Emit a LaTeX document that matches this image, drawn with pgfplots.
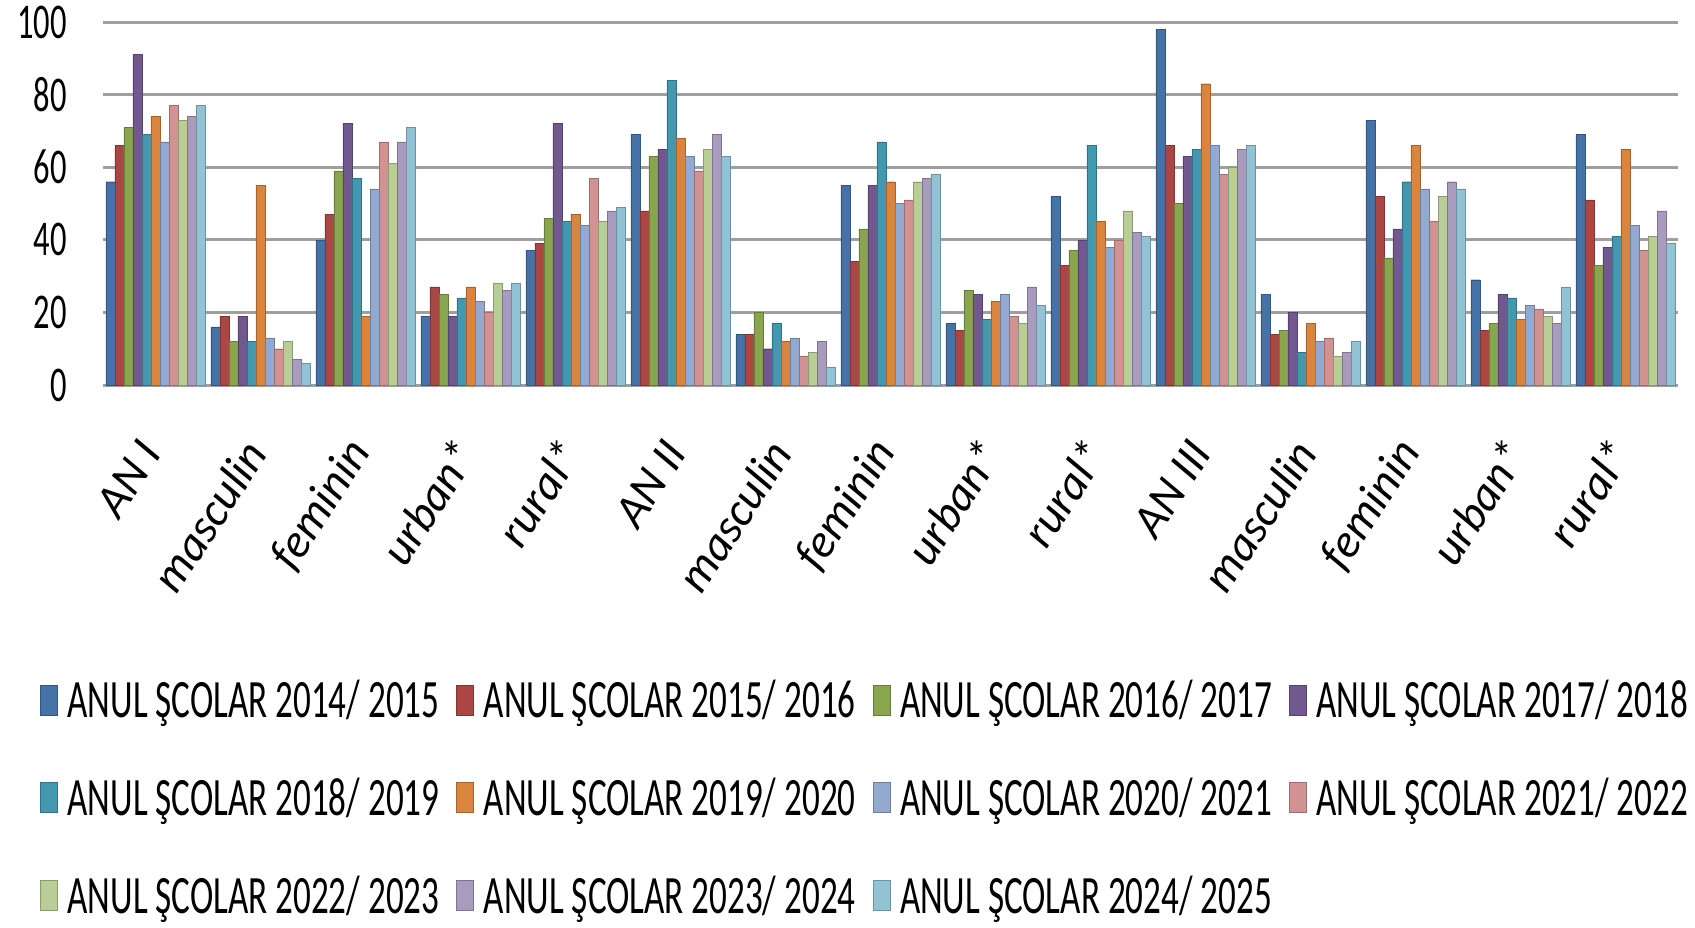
\documentclass[border=0pt]{standalone}
\usepackage{pgfplots}
\pgfplotsset{compat=1.18}
\usepackage{pgfplotstable}
\usepackage{fontspec}
\newfontfamily\cf[FakeStretch=0.65]{Carlito}
\newfontfamily\cfn{Carlito}
\definecolor{c1}{HTML}{4572A7}
\definecolor{c2}{HTML}{AA4643}
\definecolor{c3}{HTML}{89A54E}
\definecolor{c4}{HTML}{71588F}
\definecolor{c5}{HTML}{4198AF}
\definecolor{c6}{HTML}{DB843D}
\definecolor{c7}{HTML}{93A9CF}
\definecolor{c8}{HTML}{D19392}
\definecolor{c9}{HTML}{B9CD96}
\definecolor{c10}{HTML}{A99BBD}
\definecolor{c11}{HTML}{92C3D4}
\pgfplotstableread{
x s1 s2 s3 s4 s5 s6 s7 s8 s9 s10 s11
0 56 66 71 91 69 74 67 77 73 74 77
1 16 19 12 19 12 55 13 10 12 7 6
2 40 47 59 72 57 19 54 67 61 67 71
3 19 27 25 19 24 27 23 20 28 26 28
4 37 39 46 72 45 47 44 57 45 48 49
5 69 48 63 65 84 68 63 59 65 69 63
6 14 14 20 10 17 12 13 8 9 12 5
7 55 34 43 55 67 56 50 51 56 57 58
8 17 15 26 25 18 23 25 19 17 27 22
9 52 33 37 40 66 45 38 40 48 42 41
10 98 66 50 63 65 83 66 58 60 65 66
11 25 14 15 20 9 17 12 13 8 9 12
12 73 52 35 43 56 66 54 45 52 56 54
13 29 15 17 25 24 18 22 21 19 17 27
14 69 51 33 38 41 65 44 37 41 48 39
}\data
\begin{document}
\begin{tikzpicture}
\begin{axis}[
  name=ax,
  scale only axis,
  width=1575bp, height=363bp,
  xmin=-0.5, xmax=14.5, ymin=0, ymax=100,
  ybar=0pt, bar width=0.086,
  every axis plot/.append style={
    legend image code/.code={\fill[##1] (0bp,-15bp) rectangle (17bp,15bp);}},
  axis line style={draw=none},
  ytick={0,20,40,60,80,100},
  ymajorgrids,
  grid style={gray!75, line width=3bp},
  major tick length=0pt,
  /pgf/number format/assume math mode=true,
  yticklabel style={font=\cf\fontsize{50bp}{60bp}\selectfont, inner sep=0pt, anchor=east, xshift=-36bp},
  xtick={0,...,14},
  xticklabels={AN I, masculin, feminin, urban*, rural*, AN II, masculin, feminin, urban*, rural*, AN III, masculin, feminin, urban*, rural*},
  xticklabel style={font=\cfn\itshape\fontsize{47bp}{56bp}\selectfont, inner sep=0pt, yshift=-60bp, xshift=-5bp, rotate=57, anchor=east},
  legend columns=4,
  legend style={at={(0,0)}, anchor=north west, xshift=-63bp, yshift=-293bp,
    draw=none, fill=none, inner sep=0pt,
    font=\cf\fontsize{54bp}{62bp}\selectfont,
    column sep=8bp, row sep=55bp,
    /tikz/every even column/.append style={column sep=15bp}},
  legend cell align=left,
]
\addplot[fill=c1, draw=c1!75!black] table[x=x,y=s1]{\data};
\addplot[fill=c2, draw=c2!75!black] table[x=x,y=s2]{\data};
\addplot[fill=c3, draw=c3!75!black] table[x=x,y=s3]{\data};
\addplot[fill=c4, draw=c4!75!black] table[x=x,y=s4]{\data};
\addplot[fill=c5, draw=c5!75!black] table[x=x,y=s5]{\data};
\addplot[fill=c6, draw=c6!75!black] table[x=x,y=s6]{\data};
\addplot[fill=c7, draw=c7!75!black] table[x=x,y=s7]{\data};
\addplot[fill=c8, draw=c8!75!black] table[x=x,y=s8]{\data};
\addplot[fill=c9, draw=c9!75!black] table[x=x,y=s9]{\data};
\addplot[fill=c10, draw=c10!75!black] table[x=x,y=s10]{\data};
\addplot[fill=c11, draw=c11!75!black] table[x=x,y=s11]{\data};
\legend{ANUL ŞCOLAR 2014/ 2015, ANUL ŞCOLAR 2015/ 2016, ANUL ŞCOLAR 2016/ 2017, ANUL ŞCOLAR 2017/ 2018, ANUL ŞCOLAR 2018/ 2019, ANUL ŞCOLAR 2019/ 2020, ANUL ŞCOLAR 2020/ 2021, ANUL ŞCOLAR 2021/ 2022, ANUL ŞCOLAR 2022/ 2023, ANUL ŞCOLAR 2023/ 2024, ANUL ŞCOLAR 2024/ 2025}
\end{axis}
\pgfresetboundingbox
\path ([shift={(-103bp,-543bp)}]ax.south west) rectangle ([shift={(1592bp,385bp)}]ax.south west);
\end{tikzpicture}
\end{document}
